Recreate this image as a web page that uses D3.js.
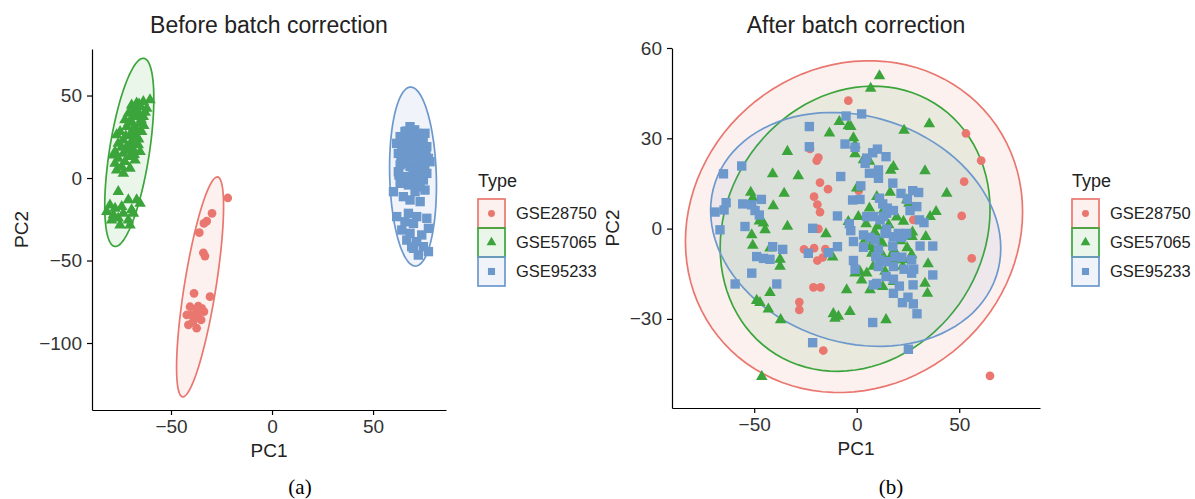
<!DOCTYPE html>
<html>
<head>
<meta charset="utf-8">
<script src="https://cdn.jsdelivr.net/npm/d3@7"></script>
<style>
  body { margin: 0; background: #fff; }
  text { font-family: "Liberation Sans", Arial, sans-serif; }
</style>
</head>
<body>
<div class="chart"></div>
<script>
var groups = ["GSE28750", "GSE57065", "GSE95233"];
var colors = ["#E9776F", "#3BA53B", "#6C98CC"];

// before batch correction, [PC1, PC2]
var before28750 = [[-21.9,-12.1],[-29.7,-21.4],[-32.3,-26.1],[-33.7,-27.5],[-36,-33.1],[-34,-45.3],[-33.2,-47.3],
  [-38.6,-69.9],[-30.7,-71.9],[-40.6,-78],[-37.3,-80],[-34.8,-79],[-33.7,-81],[-39.8,-83],[-41.4,-89],[-37.3,-91],
  [-35.1,-86],[-38.5,-85],[-42.2,-83],[-36.5,-77.6],[-36.8,-82.5],[-39.2,-87.5],[-35.8,-80.5]];

var before57065 = [[-60.4,47.3],[-63.7,46.3],[-67,45.3],[-69.5,44.2],[-65.3,43.2],[-67.8,41.2],[-62,42.2],[-71.1,39.2],
  [-66.2,38.2],[-68.6,37.2],[-63.7,37.2],[-72.8,35.2],[-69.5,34.1],[-65.3,33.1],[-71.9,31.1],[-68.6,30.1],[-75.2,28.1],
  [-64.5,28.1],[-76.9,26.1],[-70.3,26.1],[-67,25.1],[-73.6,23],[-69.5,22],[-76.1,21],[-66.2,20],[-71.9,19],[-68.6,17],
  [-77.7,16],[-73.6,14.9],[-65.3,16],[-70.3,12.9],[-76.1,11.9],[-72.8,9.9],[-67.8,10.9],[-78.5,13.9],[-74.4,6.9],
  [-76.9,4.8],[-70.3,5.9],[-73.6,2.8],[-77.7,8.9],[-66.5,40.5],[-64.8,35.5],[-70.8,33.5],[-67.2,29.5],[-63.5,31.8],
  [-69.2,27.2],[-72.4,25.5],[-66,23.5],[-70.5,19.8],[-68.2,14.2],[-74.5,18.5],[-71.2,16.8],[-65.8,44.8],[-62.8,39.8],
  [-68.9,42.6],
  [-76.1,-8.3],[-71.1,-13.3],[-67,-13.3],[-65.3,-15.4],[-80.2,-16.4],[-77.7,-18.4],[-74.4,-17.4],[-69.5,-19.4],
  [-81.8,-20.4],[-78.5,-22.4],[-73.6,-21.4],[-68.6,-21.4],[-76.1,-24.4],[-71.1,-25.5],[-79.4,-25.5],[-70.3,-28.5],
  [-75.2,-28.5]];

var before95233 = [[68.3,31.1],[65.8,28.1],[71.6,27.1],[75.7,27.1],[63.4,25.1],[69.1,24],[74.1,23],[66.7,21],[61.7,21],
  [71.6,20],[76.6,19],[64.2,18],[70,17],[74.9,16],[62.5,14.9],[67.5,13.9],[73.3,12.9],[77.4,11.9],[65,10.9],[70.8,9.9],
  [78.2,9.9],[63.4,7.9],[68.3,6.9],[74.1,6.9],[62.5,3.8],[71.6,3.8],[76.6,2.8],[65.8,0.8],[70,-0.2],[74.9,-1.2],
  [63.4,-3.2],[67.5,-4.2],[73.3,-5.3],[60.1,-8.3],[70.8,-8.3],[75.7,-7.3],[65,-11.3],[68.3,-13.3],[73.3,-14.3],
  [61.7,-23.4],[67.5,-21.4],[71.6,-23.4],[76.6,-24.4],[65.8,-26.5],[70,-27.5],[77.4,-30.5],[64.2,-31.5],[68.3,-33.5],
  [74.1,-34.5],[66.7,-37.6],[71.6,-38.6],[74.9,-41.6],[70,-42.6],[77.4,-44.6],[72.4,-46.7],[69.1,-41.6],
  [66.5,28.5],[72.8,25.5],[68.2,22.4],[64.8,19.6],[73.5,18.6],[69.4,15.2],[76.2,14.1],[63.8,12.2],[71.2,11.6],
  [66.4,8.8],[75.6,8.2],[69.8,4.6],[62.8,1.8],[73.1,1.2],[67.6,-1.8],[71.8,-3.4],[64.6,24.2],[70.6,29.2],[74.8,21.4],
  [67.2,16.8]];

// after batch correction, [PC1, PC2]
var after28750 = [[-4.1,42.5],[-22.8,26.5],[-18.7,23.6],[-19.5,22.6],[-17.9,15.3],[-14,13.1],[-20.8,10.6],[-19.2,8],
  [-17.9,5.5],[-18.7,-0.1],[-25.7,-6.9],[-20.8,-6.5],[-15.3,-6.8],[-19.2,-10.6],[-21.1,-19.5],[-17.6,-19.5],[-28,-24.4],
  [-28,-27],[-16.3,-40.5],[53.3,31.6],[60.7,22.6],[52.4,15.6],[51.2,4.2],[56.1,-9.9],[65,-48.9],[27.6,2.9],[1,12.6],
  [-16.6,-9.6],[-23.4,-8]];

var after57065 = [[11.1,50.7],[6.8,46.6],[35.4,34.8],[23.1,32.6],[-8.5,35.5],[-4.1,34.1],[-2.9,33.9],[-13.3,31.7],
  [-1.6,30.1],[-0.8,24.8],[-33.8,25.6],[-41,18.2],[-28.5,17.5],[-35.4,11.7],[-51.7,12],[-50.7,10.1],[-40.7,7.5],
  [-47.5,2.5],[-45.5,1.8],[-33.8,0.7],[-51.2,-2.1],[-44.7,-0.4],[-50.7,-5.6],[-42.3,-6.5],[-37.4,-10.2],[-37.4,-12.6],
  [-42.3,-21.3],[-48.8,-23.9],[-47.2,-24.6],[-43.1,-26.8],[-37.1,-30.3],[-11.4,-28.3],[-10.6,-29.8],[-8.9,-29.2],
  [-3.3,-27.6],[-4.9,-20.4],[1.6,-14.3],[4.9,-14.8],[6.5,-20.4],[2.4,-17.1],[-0.8,-14.8],[-11.7,-9.5],[-15,-1.8],
  [14.3,-30.3],[12.7,-19.3],[17.9,-17.6],[22.4,-12.6],[26.8,-8.7],[22.8,-10.4],[34.5,-21.5],[33.3,-18.2],[34.8,-11.7],
  [33.7,-2.7],[27,-2.7],[35.8,4],[38.7,5.6],[43.9,11.7],[33.3,19.2],[17.9,20.6],[16.6,19.3],[24.4,9.5],[25.5,8.4],
  [16.3,12],[9.8,10.6],[6.2,6.8],[0.8,4],[-4.1,2.3],[4.6,1.6],[6.8,-6],[10.6,-3.5],[13,-9.3],[8.1,-12.6],[17.9,-10.4],
  [0,13.4],[-0.8,27.8],[3.3,22.8],[6.2,22.3],[-46.3,-49.2],
  // partly hidden under the squares
  [12.5,-4.8],[18.2,-7.2],[15.6,1.2],[21.4,-4.1],[8.8,-1.2],[24.6,-6.4],[13.8,-14.2],[19.5,3.8],
  [10.2,0.8],[16.4,-9.6],[22.8,2.4],[7.4,-8.2],[27.2,-1.2],[18.8,-2.6],[4.2,-3.6],[13.1,6.2]];

var after95233 = [[-5.2,37.4],[2.4,38.1],[-23.1,33.9],[-23.1,27.2],[-5.7,28.1],[-0.8,27],[-7.8,17.3],[10.1,26.4],
  [7.8,25.2],[14.3,23.9],[4.9,23.4],[4.1,21.7],[6.2,18.4],[10.6,19.5],[10.6,16.7],[2,14.2],[17.6,15.1],[1.6,9.7],
  [-2,9.5],[11.1,10.1],[12.7,8.2],[14.9,6.8],[17.9,6],[14.6,5.1],[21.6,11.7],[27.3,12.6],[30.2,12],[24.7,9.7],[29.3,7.3],
  [26,6],[30.6,2.9],[32.8,2],[4.9,4],[8.1,4],[11.4,2.9],[13,4],[-3.6,1.6],[-2.9,-0.7],[-9.4,4.2],[3.3,-2.1],[6.5,-2.9],
  [8.9,-3.8],[13.8,-1.6],[14.6,-0.2],[17.9,-2.7],[20.3,-1.6],[21.9,-2.9],[22.8,-2.1],[24.4,-1.6],[17.6,-5.8],[10.6,-6.9],
  [3.3,-6.2],[-1.6,-4.3],[-9.4,-6],[9.3,-9.3],[11.4,-10.4],[14.6,-11],[18.7,-9.3],[22,-9.5],[26.8,-10.4],[30.9,-5.8],
  [37.1,-5.8],[17.9,-12.6],[23.1,-13.5],[27.8,-13.5],[26.8,-14.8],[37.1,-15.4],[-1.6,-10.6],[-0.8,-13.5],[10.6,-12.6],
  [14.3,-15.9],[17.9,-16.8],[8.1,-18.7],[9.8,-18.2],[20.8,-19.1],[17.9,-21.5],[27.5,-18.7],[22.3,-24.6],[25,-22.8],
  [27.6,-25],[29.4,-28.3],[7.8,-31.2],[25.2,-40.1],[-21.5,-37.9],[-23.6,-8.2],[-21.5,0.1],[-13.8,-8],[-36.1,-6.9],
  [-41,-6],[-48.8,-9.3],[-45.5,-9.9],[-42.3,-10.2],[-39,-18.4],[-51.2,-14.8],[-59.3,-18.4],[-54.5,0.7],[-55.6,8.2],
  [-51.2,7.9],[-46.5,9.7],[-49.6,6],[-47.5,4.5],[-63.7,8.6],[-64.7,6.2],[-69.1,5.5],[-66.7,-0.4],[-65,18.2],[-56.1,20.8]];

var xTicksBefore = [-50, 0, 50];
var yTicksBefore = [50, 0, -50, -100];
var xTicksAfter = [-50, 0, 50];
var yTicksAfter = [60, 30, 0, -30];

var shapes = [d3.symbolCircle, d3.symbolTriangle, d3.symbolSquare];
var sizes = [60, 58, 88];
var keySizes = [38, 42, 50];

var svg = d3.select(".chart")
    .append("svg")
    .attr("width", 1195)
    .attr("height", 499);

// 95% ellipse like stat_ellipse (dfn = 2 so qf has a closed form)
function ellipse(pts) {
    var n = pts.length;
    var mx = d3.mean(pts, function(d) { return d[0]; });
    var my = d3.mean(pts, function(d) { return d[1]; });
    var sxx = 0, syy = 0, sxy = 0;
    pts.forEach(function(d) {
        sxx += (d[0] - mx) * (d[0] - mx);
        syy += (d[1] - my) * (d[1] - my);
        sxy += (d[0] - mx) * (d[1] - my);
    });
    sxx /= n - 1; syy /= n - 1; sxy /= n - 1;
    var a = Math.sqrt(sxx), b = sxy / a, c = Math.sqrt(syy - b * b);
    var dfd = n - 1;
    var q = (dfd / 2) * (Math.pow(0.05, -2 / dfd) - 1);
    var r = Math.sqrt(2 * q);
    return d3.range(0, 100).map(function(i) {
        var t = i / 100 * 2 * Math.PI;
        var u = Math.cos(t), v = Math.sin(t);
        return [mx + r * u * a, my + r * (u * b + v * c)];
    });
}

function panel(cfg) {
    var x = d3.scaleLinear().domain(cfg.xDomain).range(cfg.xRange);
    var y = d3.scaleLinear().domain(cfg.yDomain).range(cfg.yRange);
    var g = svg.append("g");

    var line = d3.line()
        .x(function(d) { return x(d[0]); })
        .y(function(d) { return y(d[1]); })
        .curve(d3.curveLinearClosed);

    cfg.series.forEach(function(pts, i) {
        g.append("path")
            .attr("d", line(ellipse(pts)))
            .attr("fill", colors[i])
            .attr("fill-opacity", 0.1)
            .attr("stroke", colors[i])
            .attr("stroke-width", 1.7);
    });

    cfg.series.forEach(function(pts, i) {
        g.selectAll(null)
            .data(pts)
            .enter()
            .append("path")
            .attr("transform", function(d) { return "translate(" + x(d[0]) + "," + y(d[1]) + ")"; })
            .attr("d", d3.symbol().type(shapes[i]).size(sizes[i]))
            .attr("fill", colors[i]);
    });

    var xa = g.append("g")
        .attr("transform", "translate(0," + cfg.yRange[0] + ")")
        .call(d3.axisBottom(x).tickValues(cfg.xTicks).tickSize(5).tickSizeOuter(0).tickPadding(5));
    var ya = g.append("g")
        .attr("transform", "translate(" + cfg.xRange[0] + ",0)")
        .call(d3.axisLeft(y).tickValues(cfg.yTicks).tickSize(5).tickSizeOuter(0).tickPadding(5));
    [xa, ya].forEach(function(ax) {
        ax.select(".domain").attr("stroke", "#000").attr("stroke-width", 1.2);
        ax.selectAll(".tick line").attr("stroke", "#000").attr("stroke-width", 1.2);
        ax.selectAll("text")
            .attr("fill", "#333")
            .style("font-size", "19px")
            .style("font-family", "Liberation Sans, Arial, sans-serif");
    });

    var cx = (cfg.xRange[0] + cfg.xRange[1]) / 2;
    var cy = (cfg.yRange[0] + cfg.yRange[1]) / 2;

    svg.append("text")
        .attr("x", cx)
        .attr("y", 33)
        .attr("text-anchor", "middle")
        .text(cfg.title)
        .style("font-size", "23px")
        .attr("fill", "#222");

    svg.append("text")
        .attr("x", cx)
        .attr("y", cfg.yRange[0] + 47)
        .attr("text-anchor", "middle")
        .text("PC1")
        .style("font-size", "19px")
        .attr("fill", "#222");

    svg.append("text")
        .attr("transform", "translate(" + cfg.pc2X + "," + cy + ") rotate(-90)")
        .attr("text-anchor", "middle")
        .text("PC2")
        .style("font-size", "19px")
        .attr("fill", "#222");

    svg.append("text")
        .attr("x", cfg.capX)
        .attr("y", 494)
        .attr("text-anchor", "middle")
        .text(cfg.caption)
        .style("font-size", "21px")
        .style("font-family", "Liberation Serif, Times New Roman, serif")
        .attr("fill", "#000");

    // legend
    var lg = svg.append("g").attr("transform", "translate(" + cfg.legendX + ",0)");
    lg.append("text")
        .attr("x", 1)
        .attr("y", 187)
        .text("Type")
        .style("font-size", "18px")
        .attr("fill", "#222");
    groups.forEach(function(name, i) {
        var top = 199 + i * 29;
        lg.append("rect")
            .attr("x", 1)
            .attr("y", top)
            .attr("width", 27)
            .attr("height", 29)
            .attr("fill", colors[i])
            .attr("fill-opacity", 0.1)
            .attr("stroke", colors[i])
            .attr("stroke-width", 1.7);
        lg.append("path")
            .attr("transform", "translate(14.5," + (top + 14.5) + ")")
            .attr("d", d3.symbol().type(shapes[i]).size(keySizes[i]))
            .attr("fill", colors[i]);
        lg.append("text")
            .attr("x", 39)
            .attr("y", top + 14.5)
            .attr("dy", "0.36em")
            .text(name)
            .style("font-size", "16.5px")
            .attr("fill", "#222");
    });
}

panel({
    title: "Before batch correction",
    caption: "(a)",
    capX: 300,
    series: [before28750, before57065, before95233],
    xDomain: [-89.1, 86.1], xRange: [92, 446],
    yDomain: [-140.6, 78.2], yRange: [410, 49],
    xTicks: xTicksBefore, yTicks: yTicksBefore,
    pc2X: 28,
    legendX: 477
});

panel({
    title: "After batch correction",
    caption: "(b)",
    capX: 891,
    series: [after28750, after57065, after95233],
    xDomain: [-90.1, 89.4], xRange: [672, 1040],
    yDomain: [-59.6, 60], yRange: [408, 48],
    xTicks: xTicksAfter, yTicks: yTicksAfter,
    pc2X: 619,
    legendX: 1071
});
</script>
</body>
</html>
